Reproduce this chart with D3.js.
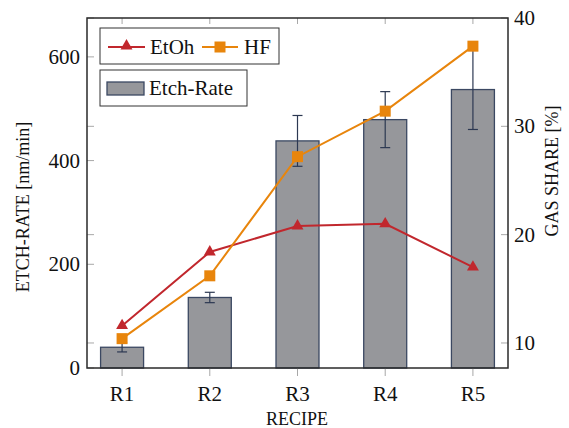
<!DOCTYPE html>
<html>
<head>
<meta charset="utf-8">
<script src="https://cdn.jsdelivr.net/npm/d3@7"></script>
<style>
  html, body { margin: 0; padding: 0; background: #fff; }
</style>
</head>
<body>
<svg id="chart" width="569" height="428"></svg>
<script>
// Recipes on the x axis
const recipes = ["R1", "R2", "R3", "R4", "R5"];
// Etch rate per recipe [nm/min] with symmetric error
const etchRate = [40, 136, 438, 479, 537];
const etchErr = [9, 10, 49, 54, 77];
// Gas shares [%]
const etohShare = [11.6, 18.4, 20.8, 21.0, 17.0];
const hfShare = [10.4, 16.2, 27.2, 31.4, 37.4];
// Tick values
const leftTicks = [0, 200, 400, 600];
const rightTicks = [10, 20, 30, 40];

const FONT = "'Liberation Serif', 'Times New Roman', serif";
const svg = d3.select("#chart").attr("font-family", FONT);
const L = 87, R = 508, T = 18, B = 368;

const x = d3.scalePoint().domain(recipes).range([L, R]).padding(0.4);
const yL = d3.scaleLinear().domain([0, 675]).range([B, T]);
const yR = d3.scaleLinear().domain([7.69, 40]).range([B, T]);

const tickGray = "#a8a8a8";
const barW = 43;

// Bars
svg.append("g").selectAll("rect").data(recipes).join("rect")
  .attr("x", d => x(d) - barW / 2)
  .attr("y", (d, i) => yL(etchRate[i]))
  .attr("width", barW)
  .attr("height", (d, i) => yL(0) - yL(etchRate[i]))
  .attr("fill", "#96979b")
  .attr("stroke", "#3b4862")
  .attr("stroke-width", 1.3);

// Error bars
const eb = svg.append("g").attr("stroke", "#2c3852").attr("stroke-width", 1.2);
recipes.forEach((d, i) => {
  const cx = x(d), y0 = yL(etchRate[i] - etchErr[i]), y1 = yL(etchRate[i] + etchErr[i]);
  eb.append("line").attr("x1", cx).attr("x2", cx).attr("y1", y0).attr("y2", y1);
  eb.append("line").attr("x1", cx - 5).attr("x2", cx + 5).attr("y1", y0).attr("y2", y0);
  eb.append("line").attr("x1", cx - 5).attr("x2", cx + 5).attr("y1", y1).attr("y2", y1);
});

// Tick marks
const tk = svg.append("g").attr("stroke", tickGray).attr("stroke-width", 1);
recipes.forEach(d => {
  tk.append("line").attr("x1", x(d)).attr("x2", x(d)).attr("y1", B).attr("y2", B + 8);
  tk.append("line").attr("x1", x(d)).attr("x2", x(d)).attr("y1", T).attr("y2", T + 6);
});
leftTicks.forEach(v => {
  tk.append("line").attr("x1", L).attr("x2", L + 7).attr("y1", yL(v)).attr("y2", yL(v));
});
rightTicks.forEach(v => {
  tk.append("line").attr("x1", R - 7).attr("x2", R).attr("y1", yR(v)).attr("y2", yR(v));
  tk.append("line").attr("x1", L).attr("x2", L + 7).attr("y1", yR(v)).attr("y2", yR(v));
});

// Lines with markers
const lineGen = d3.line().x((d, i) => x(recipes[i])).y(d => yR(d));
const etohColor = "#c1272d", hfColor = "#e8850c";

svg.append("path").datum(etohShare).attr("d", lineGen)
  .attr("fill", "none").attr("stroke", etohColor).attr("stroke-width", 2);
svg.append("path").datum(hfShare).attr("d", lineGen)
  .attr("fill", "none").attr("stroke", hfColor).attr("stroke-width", 2);

const tri = d3.symbol().type(d3.symbolTriangle).size(62);
svg.append("g").selectAll("path").data(etohShare).join("path")
  .attr("d", tri)
  .attr("transform", (d, i) => `translate(${x(recipes[i])},${yR(d)})`)
  .attr("fill", etohColor);
svg.append("g").selectAll("rect").data(hfShare).join("rect")
  .attr("x", (d, i) => x(recipes[i]) - 5.5)
  .attr("y", d => yR(d) - 5.5)
  .attr("width", 11).attr("height", 11)
  .attr("fill", hfColor);

// Frame
svg.append("rect").attr("x", L).attr("y", T).attr("width", R - L).attr("height", B - T)
  .attr("fill", "none").attr("stroke", "#2a2a2a").attr("stroke-width", 1.5);

function txt(sel) {
  return sel.attr("font-family", FONT).attr("fill", "#111");
}

// Tick labels
txt(svg.append("g").selectAll("text").data(recipes).join("text"))
  .attr("x", d => x(d)).attr("y", 401)
  .attr("text-anchor", "middle").attr("font-size", 21).text(d => d);
txt(svg.append("g").selectAll("text").data(leftTicks).join("text"))
  .attr("x", 80).attr("y", d => yL(d) + 7)
  .attr("text-anchor", "end").attr("font-size", 21).text(d => d);
txt(svg.append("g").selectAll("text").data(rightTicks).join("text"))
  .attr("x", 514).attr("y", d => yR(d) + 7)
  .attr("text-anchor", "start").attr("font-size", 21).text(d => d);

// Axis titles
txt(svg.append("text")).attr("x", 297).attr("y", 425).attr("text-anchor", "middle")
  .attr("font-size", 18).text("RECIPE");
txt(svg.append("text")).attr("transform", "translate(29,207) rotate(-90)")
  .attr("text-anchor", "middle").attr("font-size", 18).text("ETCH-RATE [nm/min]");
txt(svg.append("text")).attr("transform", "translate(558,171) rotate(-90)")
  .attr("text-anchor", "middle").attr("font-size", 18).text("GAS SHARE [%]");

// Legends
const lg1 = svg.append("g");
lg1.append("rect").attr("x", 100).attr("y", 28).attr("width", 179).attr("height", 36)
  .attr("fill", "#fff").attr("stroke", "#333").attr("stroke-width", 1);
lg1.append("line").attr("x1", 108).attr("x2", 145).attr("y1", 47).attr("y2", 47)
  .attr("stroke", etohColor).attr("stroke-width", 2);
lg1.append("path").attr("d", tri).attr("transform", "translate(126.5,46)").attr("fill", etohColor);
txt(lg1.append("text")).attr("x", 150).attr("y", 54).attr("font-size", 21).text("EtOh");
lg1.append("line").attr("x1", 202).attr("x2", 238).attr("y1", 47).attr("y2", 47)
  .attr("stroke", hfColor).attr("stroke-width", 2);
lg1.append("rect").attr("x", 214.5).attr("y", 41.5).attr("width", 11).attr("height", 11).attr("fill", hfColor);
txt(lg1.append("text")).attr("x", 244).attr("y", 54).attr("font-size", 21).text("HF");

const lg2 = svg.append("g");
lg2.append("rect").attr("x", 100).attr("y", 70).attr("width", 147).attr("height", 36)
  .attr("fill", "#fff").attr("stroke", "#333").attr("stroke-width", 1);
lg2.append("rect").attr("x", 107).attr("y", 82).attr("width", 37).attr("height", 13)
  .attr("fill", "#96979b").attr("stroke", "#3b4862").attr("stroke-width", 1.3);
txt(lg2.append("text")).attr("x", 149).attr("y", 95).attr("font-size", 21).text("Etch-Rate");
</script>
</body>
</html>
